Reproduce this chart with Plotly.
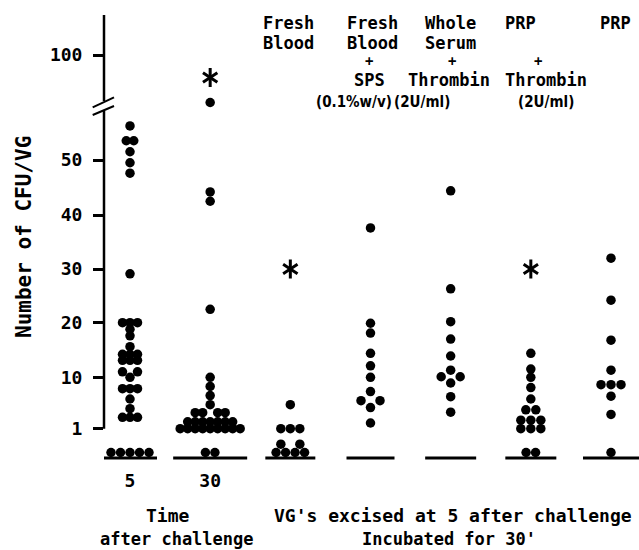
import numpy as np
import plotly.graph_objects as go

# ---------------- data ----------------
group_labels = ["5", "30", "Fresh Blood", "Fresh Blood + SPS",
                "Whole Serum + Thrombin", "PRP + Thrombin", "PRP"]
xtick_text = ["5", "30"]

cfu_5min = [56.2, 53.5, 53.5, 51.5, 49.5, 47.6, 29.1,
            20, 20, 20, 18.8, 17.6, 15.6, 14.2, 14.2, 14.2, 13.1, 13.1, 13.1,
            11.0, 11.0, 10.0, 8.0, 8.0, 8.0, 6.2, 4.5, 3.0, 3.0, 3.0,
            0, 0, 0, 0, 0]
cfu_30min = [62, 44.2, 42.5, 22.5, 10, 8.4, 6.8, 5.2,
             3.8, 3.8, 3.8, 3.8,
             2.2, 2.2, 2.2, 2.2, 2.2, 2.2, 2.2,
             1, 1, 1, 1, 1, 1, 1, 1, 1,
             0, 0]
cfu_fresh_blood = [5.2, 1, 1, 1, 0.35, 0.35, 0, 0, 0, 0]
cfu_fresh_blood_sps = [37.6, 19.9, 18.1, 14.4, 12.1, 10.0, 7.5, 5.9, 5.9, 4.7, 2.0]
cfu_whole_serum_thrombin = [44.4, 26.3, 20.2, 17.0, 13.9, 11.3, 10.1, 10.1, 9.0, 6.6, 3.9]
cfu_prp_thrombin = [14.4, 11.5, 10.0, 8.2, 6.2, 4.3, 4.3, 2.5, 2.5, 2.5, 1, 1, 1, 0, 0]
cfu_prp = [32.0, 24.2, 16.8, 11.3, 8.7, 8.7, 8.7, 6.7, 3.5, 0]

asterisk_group = [1, 2, 5]
asterisk_value = [82, 30, 30]

ytick_values = [1, 10, 20, 30, 40, 50, 100]

series = [cfu_5min, cfu_30min, cfu_fresh_blood, cfu_fresh_blood_sps,
          cfu_whole_serum_thrombin, cfu_prp_thrombin, cfu_prp]

# ---------------- layout geometry ----------------
W, H = 639, 550
ML, MR, MT, MB = 104, 0, 0, 84
PW, PH = W - ML - MR, H - MT - MB
FIRST_PX, LAST_PX = 130, 611
PX_PER_UNIT = (LAST_PX - FIRST_PX) / (len(group_labels) - 1)
XA = -(FIRST_PX - ML) / PX_PER_UNIT
XB = XA + PW / PX_PER_UNIT

# broken value axis: value knots -> pixel rows
VAL_KNOTS = [-1, 0, 1, 10, 20, 30, 40, 50, 60, 100, 135]
PIX_KNOTS = [476, 452.5, 428.7, 377.3, 322.7, 269, 215, 160, 105, 55, 12]


def vpix(v):
    return np.interp(v, VAL_KNOTS, PIX_KNOTS)


def ydisp(v):
    return PH - vpix(v)


def ypix(p):          # decoration helper: figure pixel row -> y units
    return PH - p


def xpaper(p):        # decoration helper: figure pixel column -> paper
    return (p - ML) / PW


def ypaper(p):
    return (PH - p) / PH


row_spacing = [7.5, 7.5, 9.5, 9.5, 9.5, 10, 10]
ZERO_SPACING = 9.5
COLLIDE = 11.0


def swarm(vals, spacing):
    vals = np.asarray(vals, float)
    placed, out_v, out_dx = [], [], []
    for u in sorted(set(vals)):
        n = int((vals == u).sum())
        s = ZERO_SPACING if u == 0 else spacing
        yp = float(vpix(u))
        offs = (np.arange(n) - (n - 1) / 2) * s
        if n % 2 == 0:
            hit = any(np.hypot(o - a, yp - b) < COLLIDE for o in offs for a, b in placed)
            if hit:
                offs = np.sign(offs) * (np.abs(offs) + s / 2)
        for o in offs:
            placed.append((o, yp))
            out_v.append(u)
            out_dx.append(o)
    return out_v, out_dx


FONT = "DejaVu Sans Mono"
NARROW = "DejaVu Sans Condensed"
fig = go.Figure()

for gi, vals in enumerate(series):
    v, dx = swarm(vals, row_spacing[gi])
    fig.add_trace(go.Scatter(
        x=[gi + d / PX_PER_UNIT for d in dx], y=ydisp(np.array(v)),
        mode="markers", marker=dict(size=9.5, color="black", line=dict(width=0)),
        name=group_labels[gi], showlegend=False, hoverinfo="skip", cliponaxis=False))

for sym in ["y-up-open", "y-down-open"]:
    fig.add_trace(go.Scatter(
        x=asterisk_group, y=ydisp(np.array(asterisk_value)), mode="markers",
        marker=dict(symbol=sym, size=12, color="black", line=dict(width=3, color="black")),
        showlegend=False, hoverinfo="skip", cliponaxis=False))

shapes = []
line = dict(color="black", width=2.5)
# y axis with break
shapes.append(dict(type="line", xref="paper", yref="y", x0=0, x1=0,
                   y0=ypix(15), y1=ypix(101), line=line))
shapes.append(dict(type="line", xref="paper", yref="y", x0=0, x1=0,
                   y0=ypix(111), y1=ydisp(1), line=line))
for (x0, y0, x1, y1) in [(92.7, 107.3, 114, 97.3), (92.7, 115, 114, 106)]:
    shapes.append(dict(type="line", xref="paper", yref="y",
                       x0=xpaper(x0), x1=xpaper(x1), y0=ypix(y0), y1=ypix(y1),
                       line=dict(color="black", width=2)))
# per-group baselines
base_half = [27, 37, 25, 24, 25.5, 25.5, 28]
for gi, hw in enumerate(base_half):
    shapes.append(dict(type="line", xref="x", yref="y",
                       x0=gi - hw / PX_PER_UNIT, x1=gi + hw / PX_PER_UNIT,
                       y0=ypix(458), y1=ypix(458),
                       line=dict(color="black", width=2.8)))

annos = []


def tf(size, fam=FONT):
    return dict(family=fam, size=size, color="black", weight="bold")


top_texts = [
    ("Fresh", 288, 23, 17, FONT), ("Blood", 288, 43, 17, FONT),
    ("Fresh", 372, 23, 17, FONT), ("Blood", 372, 43, 17, FONT), ("+", 369, 61.5, 14, FONT),
    ("SPS", 369, 80, 17, FONT), ("(0.1%w/v)", 354, 102, 15, NARROW),
    ("Whole", 450, 23, 17, FONT), ("Serum", 450, 43, 17, FONT), ("+", 452, 61.5, 14, FONT),
    ("Thrombin", 449, 80, 17, FONT), ("(2U/ml)", 422, 102, 15, NARROW),
    ("PRP", 520, 23, 17, FONT), ("+", 538, 61.5, 14, FONT), ("Thrombin", 546, 80, 17, FONT),
    ("(2U/ml)", 546, 102, 15, NARROW),
    ("PRP", 615, 23, 17, FONT),
]
for t, x, y, s, fam in top_texts:
    annos.append(dict(text=t, x=xpaper(x), y=ypaper(y), xref="paper", yref="paper",
                      showarrow=False, xanchor="center", yanchor="middle", font=tf(s, fam)))
bottom_texts = [("Time", 168, 515, 18), ("after challenge", 177, 539, 17),
                ("VG's excised at 5 after challenge", 453, 515, 18),
                ("Incubated for 30'", 449, 539, 17)]
for t, x, y, s in bottom_texts:
    annos.append(dict(text=t, x=xpaper(x), y=ypaper(y), xref="paper", yref="paper",
                      showarrow=False, xanchor="center", yanchor="middle", font=tf(s)))
annos.append(dict(text="Number of CFU/VG", x=xpaper(24), y=ypaper(237), xref="paper", yref="paper",
                  showarrow=False, textangle=-90, xanchor="center", yanchor="middle",
                  font=tf(21)))

fig.update_layout(
    width=W, height=H, margin=dict(l=ML, r=MR, t=MT, b=MB),
    paper_bgcolor="white", plot_bgcolor="white",
    shapes=shapes, annotations=annos, showlegend=False,
    xaxis=dict(range=[XA, XB], showgrid=False, zeroline=False, showline=False,
               tickvals=[0, 1], ticktext=xtick_text, ticks="",
               tickfont=tf(18), ticklabelstandoff=2),
    yaxis=dict(range=[0, PH], showgrid=False, zeroline=False, showline=False,
               tickvals=list(ydisp(np.array(ytick_values))),
               ticktext=[str(v) for v in ytick_values],
               ticks="outside", ticklen=10, tickwidth=2.5, tickcolor="black",
               tickfont=tf(18), ticklabelstandoff=7),
)

fig.write_html("out.html")
